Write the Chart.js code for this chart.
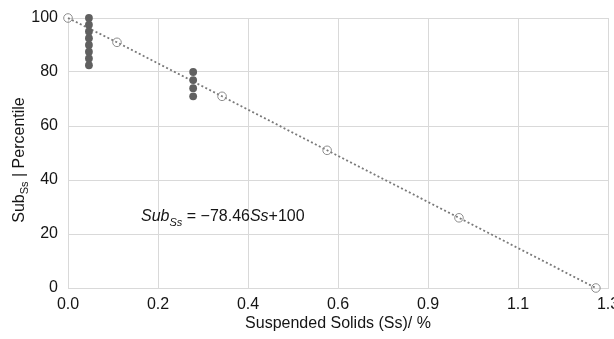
<!DOCTYPE html>
<html>
<head>
<meta charset="utf-8">
<script src="https://cdn.jsdelivr.net/npm/chart.js@4"></script>
<style>
  html, body { margin: 0; padding: 0; background: #fff; }
  #wrap { width: 614px; height: 339px; }
</style>
</head>
<body>
<div id="wrap"><canvas id="chart"></canvas></div>
<script>
// ---- data
const xTickLabels = ['0.0', '0.2', '0.4', '0.6', '0.9', '1.1', '1.3'];
const xMax = 1.29;
const yStep = 20;

// hollow markers + dotted trend (percentile curve)
const percentileX = [0, 0.117, 0.368, 0.619, 0.934, 1.261];
const percentileY = [100, 91, 71, 51, 26, 0];

// filled markers (samples)
const sampleX = [0.05, 0.05, 0.05, 0.05, 0.05, 0.05, 0.05, 0.05, 0.299, 0.299, 0.299, 0.299];
const sampleY = [100, 97.5, 95, 92.5, 90, 87.5, 85, 82.5, 80, 77, 74, 71];

const FONT = '"Liberation Sans", Arial, Helvetica, sans-serif';
const textColor = '#151515';
const gridColor = '#d9d9d9';

function toPoints(xs, ys) {
  return xs.map((x, i) => ({ x: x, y: ys[i] }));
}

// draws a run of text pieces, each with its own font and baseline shift
function drawRuns(ctx, runs, x, y) {
  let cx = x;
  runs.forEach(r => {
    ctx.font = r.font;
    ctx.fillText(r.t, cx, y + (r.dy || 0));
    cx += ctx.measureText(r.t).width;
  });
  return cx - x;
}
function runsWidth(ctx, runs) {
  let w = 0;
  runs.forEach(r => { ctx.font = r.font; w += ctx.measureText(r.t).width; });
  return w;
}

const textPlugin = {
  id: 'texts',
  afterDraw(chart) {
    const ctx = chart.ctx;
    const area = chart.chartArea;
    ctx.save();
    ctx.fillStyle = textColor;
    ctx.textBaseline = 'alphabetic';
    ctx.textAlign = 'left';

    // y axis title: Sub_Ss | Percentile
    const yRuns = [
      { t: 'Sub', font: '16px ' + FONT },
      { t: 'Ss', font: '11px ' + FONT, dy: 4 },
      { t: ' | Percentile', font: '16px ' + FONT }
    ];
    const w = runsWidth(ctx, yRuns);
    ctx.save();
    ctx.translate(24, (area.top + area.bottom) / 2 + 7);
    ctx.rotate(-Math.PI / 2);
    drawRuns(ctx, yRuns, -w / 2, 0);
    ctx.restore();

    // regression equation
    const eq = [
      { t: 'Sub', font: 'italic 16px ' + FONT },
      { t: 'Ss', font: 'italic 11px ' + FONT, dy: 5 },
      { t: ' = \u221278.46', font: '16px ' + FONT },
      { t: 'Ss', font: 'italic 16px ' + FONT },
      { t: '+100', font: '16px ' + FONT }
    ];
    drawRuns(ctx, eq, area.left + 73, area.top + 203);
    ctx.restore();
  }
};

const ctx = document.getElementById('chart').getContext('2d');
const ssChart = new Chart(ctx, {
  type: 'scatter',
  data: {
    datasets: [{
      label: 'Percentile',
      data: toPoints(percentileX, percentileY),
      showLine: true,
      borderColor: '#7a7a7a',
      borderWidth: 1.8,
      borderDash: [2, 2.4],
      pointRadius: 4.3,
      pointBorderWidth: 1,
      pointBorderColor: '#8c8c8c',
      pointBackgroundColor: 'rgba(255,255,255,0)',
      clip: false,
      order: 2
    }, {
      label: 'Samples',
      data: toPoints(sampleX, sampleY),
      pointRadius: 3.9,
      pointBorderWidth: 0,
      pointBackgroundColor: '#606060',
      clip: false,
      order: 1
    }]
  },
  options: {
    responsive: true,
    maintainAspectRatio: false,
    animation: false,
    layout: { padding: { top: 18, right: 6, left: 0, bottom: 0 } },
    plugins: {
      legend: { display: false },
      tooltip: { enabled: false }
    },
    scales: {
      x: {
        type: 'linear',
        min: 0,
        max: xMax,
        afterBuildTicks: scale => {
          const n = xTickLabels.length - 1;
          scale.ticks = xTickLabels.map((l, i) => ({ value: i * xMax / n }));
        },
        afterFit: scale => {
          scale.height = 51;
          scale.paddingLeft = 0;
          scale.paddingRight = 0;
        },
        ticks: {
          callback: (v, i) => xTickLabels[i],
          font: { size: 16, family: FONT },
          color: textColor,
          padding: 7,
          maxRotation: 0,
          autoSkip: false
        },
        grid: { color: gridColor, drawTicks: false },
        border: { color: gridColor },
        title: {
          display: true,
          text: 'Suspended Solids (Ss)/ %',
          font: { size: 16, family: FONT },
          color: textColor,
          padding: { top: 4, bottom: 6 }
        }
      },
      y: {
        min: 0,
        max: 100,
        afterFit: scale => {
          scale.width = 68;
          scale.paddingTop = 0;
          scale.paddingBottom = 0;
        },
        ticks: {
          stepSize: yStep,
          font: { size: 16, family: FONT },
          color: textColor,
          padding: 10
        },
        grid: { color: gridColor, drawTicks: false },
        border: { color: gridColor }
      }
    }
  },
  plugins: [textPlugin]
});
</script>
</body>
</html>
